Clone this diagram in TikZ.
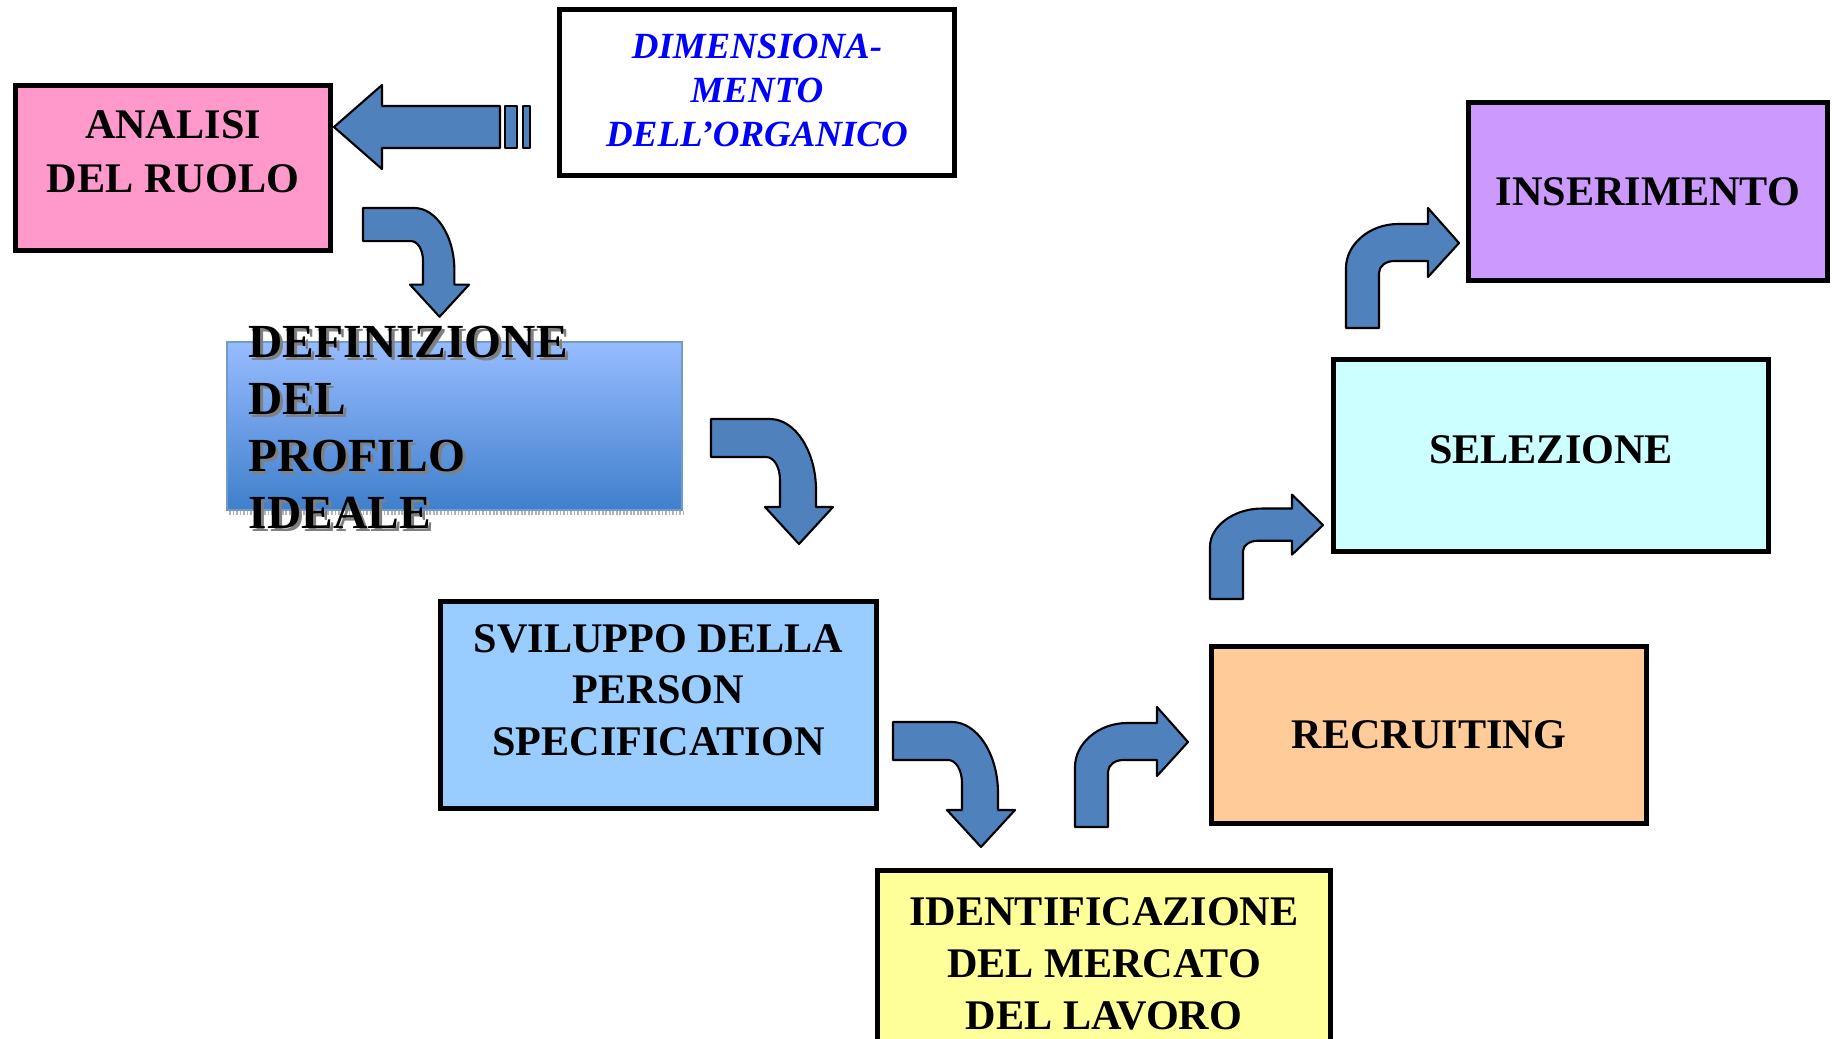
\documentclass[tikz,border=0pt]{standalone}
\usepackage{fontspec}
\setmainfont{Liberation Serif}

\definecolor{rosa}{HTML}{FF99CC}
\definecolor{viola}{HTML}{CC99FF}
\definecolor{ciano}{HTML}{CCFFFF}
\definecolor{pesca}{HTML}{FFCC99}
\definecolor{celeste}{HTML}{99CCFF}
\definecolor{giallo}{HTML}{FFFF99}
\definecolor{freccia}{HTML}{4F81BD}
\definecolor{sfumsu}{HTML}{97BCFF}
\definecolor{sfumgiu}{HTML}{3F7FCC}

\tikzset{
  box/.style={draw,line width=1.4pt,inner sep=0pt},
  lbl/.style={align=center,inner sep=0pt,font=\bfseries\fontsize{12}{14.6}\selectfont},
  deftxt/.style={anchor=base west,inner sep=0pt,font=\bfseries\fontsize{13.5}{16}\selectfont},
  arrowfill/.style={fill=freccia,draw=black,line width=0.6pt,line join=round},
  turndown/.pic={
    \draw[arrowfill] (0,0) -- (59,0) .. controls (84,0) and (105,32) .. (105,71) -- (105,88) -- (122,88) -- (88,125) -- (54,88) -- (69,88) -- (69,61) .. controls (69,48) and (63,38) .. (55,38) -- (0,38) -- cycle;
  },
  turnup/.pic={
    \draw[arrowfill] (0,0) -- (0,-60) .. controls (0,-84) and (24,-104) .. (52,-104) -- (82,-104) -- (82,-120) -- (113,-85) -- (82,-51) -- (82,-67) -- (48,-67) .. controls (40,-67) and (33,-62) .. (33,-55) -- (33,0) -- cycle;
  }
}

\begin{document}
\begin{tikzpicture}[x=0.01cm,y=-0.01cm]
  \useasboundingbox (0,0) rectangle (1832,1038);

  % caselle
  \node[box,fill=rosa,minimum width=3.15cm,minimum height=1.65cm] (analisi) at (173,168) {};
  \node[box,fill=white,minimum width=3.95cm,minimum height=1.66cm] (dimens) at (757,92.5) {};
  \node[box,fill=viola,minimum width=3.59cm,minimum height=1.78cm] (inserimento) at (1648,191.5) {};
  \node[box,fill=ciano,minimum width=4.35cm,minimum height=1.92cm] (selezione) at (1551,455.5) {};
  \node[box,fill=pesca,minimum width=4.35cm,minimum height=1.77cm] (recruiting) at (1429,735) {};
  \node[box,fill=celeste,minimum width=4.36cm,minimum height=2.07cm] (sviluppo) at (658.5,705) {};
  \node[box,fill=giallo,minimum width=4.53cm,minimum height=1.75cm] (mercato) at (1104,957.75) {};

  \node[lbl,font=\bfseries\fontsize{12}{15.4}\selectfont] (analisi-t) at ([yshift=0.16cm]analisi.center) {ANALISI\\DEL RUOLO};
  \node[lbl,text=blue,font=\bfseries\itshape\fontsize{10.5}{12.5}\selectfont] (dimens-t) at ([yshift=0.02cm]dimens.center) {DIMENSIONA-\\MENTO\\DELL'ORGANICO};
  \node[lbl] (inserimento-t) at (inserimento.center) {INSERIMENTO};
  \node[lbl] (selezione-t) at ([yshift=0.06cm]selezione.center) {SELEZIONE};
  \node[lbl] (recruiting-t) at (recruiting.center) {RECRUITING};
  \node[lbl] (sviluppo-t) at ([yshift=0.15cm]sviluppo.center) {SVILUPPO DELLA\\PERSON\\SPECIFICATION};
  \node[lbl,font=\bfseries\fontsize{12}{14.9}\selectfont] (mercato-t) at ([yshift=-0.06cm]mercato.center) {IDENTIFICAZIONE\\DEL MERCATO\\DEL LAVORO};

  % profilo ideale
  \draw[gray!60,line width=0.04cm,dash pattern=on 0.5pt off 0.5pt] (229,512.5) -- (684,512.5);
  \node[draw=freccia!80,line width=0.5pt,top color=sfumsu,bottom color=sfumgiu,minimum width=4.55cm,minimum height=1.68cm] (profilo) at (454.5,426) {};
  \foreach \t [count=\i] in {DEFINIZIONE,DEL,PROFILO,IDEALE}{
    \node[deftxt,text=gray] (ombra\i) at (251,303+57*\i) {\t};
    \node[deftxt] (def\i) at (248,300+57*\i) {\t};
  }

  % freccia a strisce
  \draw[arrowfill] (334,127) -- (382,85) -- (382,106) -- (500,106) -- (500,148) -- (382,148) -- (382,169) -- cycle;
  \draw[arrowfill] (505,106) rectangle (517,148);
  \draw[arrowfill] (523,106) rectangle (530,148);

  % frecce curve
  \pic[scale=0.87] at (363,208) {turndown};
  \pic at (711,419) {turndown};
  \pic at (893,722) {turndown};
  \pic at (1075,827) {turnup};
  \pic[yscale=0.87] at (1210,599) {turnup};
  \pic at (1346,328) {turnup};
\end{tikzpicture}
\end{document}
